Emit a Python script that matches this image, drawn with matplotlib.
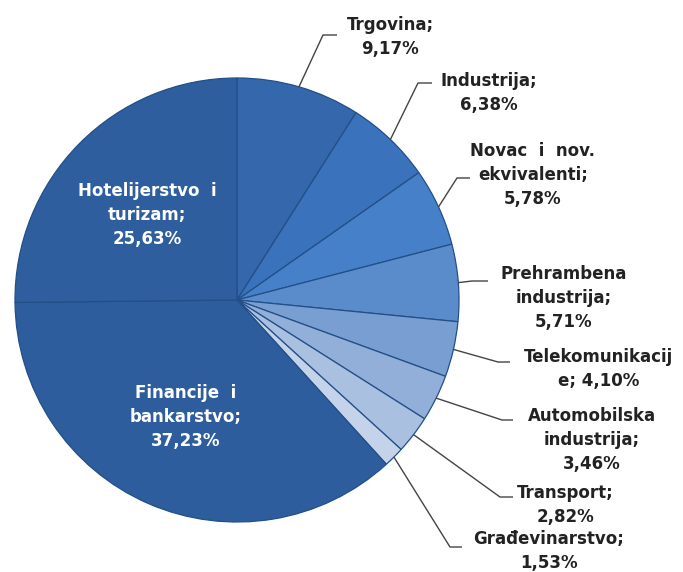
import numpy as np
import matplotlib
matplotlib.use("Agg")
import matplotlib.pyplot as plt

categories = ["Trgovina", "Industrija", "Novac  i  nov.\nekvivalenti", "Prehrambena\nindustrija",
              "Telekomunikacij\ne", "Automobilska\nindustrija", "Transport", "Građevinarstvo",
              "Financije  i\nbankarstvo", "Hotelijerstvo  i\nturizam"]
values = [9.17, 6.38, 5.78, 5.71, 4.10, 3.46, 2.82, 1.53, 37.23, 25.63]
value_labels = ["9,17%", "6,38%", "5,78%", "5,71%", "4,10%", "3,46%", "2,82%", "1,53%", "37,23%", "25,63%"]

colors = ["#3467AC", "#3B72BC", "#4680C8", "#5A8CCC", "#799ED2", "#92AFDA",
          "#AAC0E1", "#C4D3E9", "#2D5D9C", "#2E5E9E"]

W, H = 683, 572
CX, CY, R = 237, 300, 222

def px(x, y):
    return ((x - CX) / R, (CY - y) / R)

fig = plt.figure(figsize=(W / 100, H / 100), dpi=100)
ax = fig.add_axes([0, 0, 1, 1])
wedges, _ = ax.pie(values, startangle=90, counterclock=False, colors=colors, radius=1,
                   wedgeprops=dict(edgecolor="#234F88", linewidth=0.9))
ax.set_xlim(px(0, 0)[0], px(W, 0)[0])
ax.set_ylim(px(0, H)[1], px(0, 0)[1])
ax.set_aspect("equal")
ax.axis("off")

fs = 12
ls = 1.45
txtcol = "#222222"
# outside labels: (text center px, elbow px, end px) -- layout only
layout = {
    0: ((390, 37), (323, 35), (337, 35)),
    1: ((489, 93), (418, 83), (432, 83)),
    2: ((533, 175), (457, 178), (470, 178)),
    3: ((564, 298), (472, 281), (488, 281)),
    4: ((599, 369), (498, 362), (510, 362)),
    5: ((592, 440), (502, 420), (513, 420)),
    6: ((565, 505), (500, 497), (513, 497)),
    7: ((549, 551), (450, 547), (462, 547)),
}
for i, (tc, elb, end) in layout.items():
    w = wedges[i]
    mid = np.deg2rad((w.theta1 + w.theta2) / 2)
    ex, ey = np.cos(mid), np.sin(mid)
    p1 = px(*elb)
    p2 = px(*end)
    ax.plot([ex, p1[0], p2[0]], [ey, p1[1], p2[1]], color="#444444", lw=1.0, solid_capstyle="butt")
    t = px(*tc)
    ax.text(t[0], t[1], f"{categories[i]};\n{value_labels[i]}" if i != 4 else f"{categories[i]}; {value_labels[i]}",
            ha="center", va="center", fontsize=fs, fontweight="bold", color=txtcol,
            linespacing=ls, multialignment="center")

# inside labels
inside = {9: (147, 215), 8: (186, 417)}
for i, tc in inside.items():
    t = px(*tc)
    ax.text(t[0], t[1], f"{categories[i]};\n{value_labels[i]}", ha="center", va="center",
            fontsize=fs, fontweight="bold", color="white", linespacing=ls, multialignment="center")

fig.savefig("out.png", dpi=100)
